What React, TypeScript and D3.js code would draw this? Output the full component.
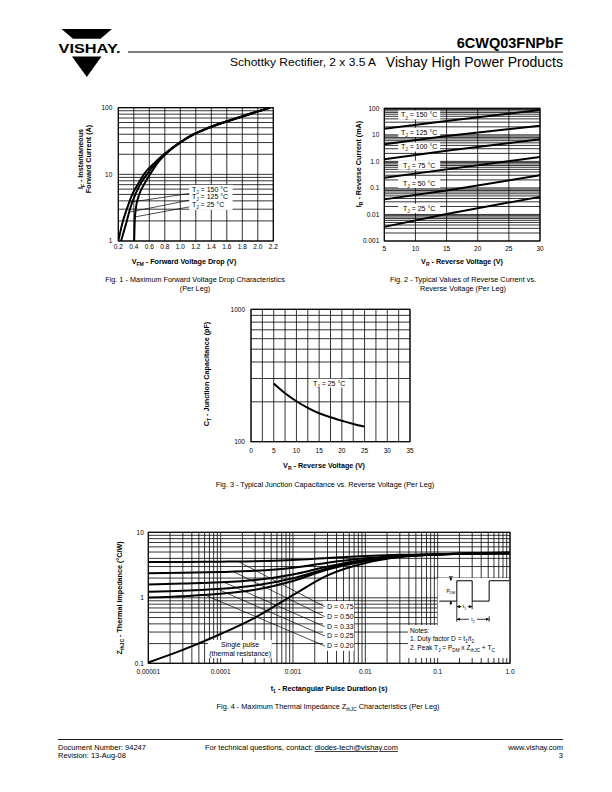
import React from "react";
import * as d3 from "d3";

const FONT = "'Liberation Sans', Arial, Helvetica, sans-serif";
const GRID_W = 0.8;
const BORDER_W = 1.1;
const CURVE_W = 2;
const TICK_FS = 6.5;
const LABEL_FS = 7.2;
const CAP_FS = 7.3;

// ---------------- Fig. 1 data ----------------
const fig1Current = [1, 2, 3, 5, 7, 10, 15, 20, 30, 40, 50, 70, 100];
const fig1Vf150 = [0.2, 0.26, 0.31, 0.38, 0.45, 0.53, 0.67, 0.79, 0.99, 1.17, 1.36, 1.73, 2.15];
const fig1Vf125 = [0.235, 0.31, 0.35, 0.42, 0.48, 0.57, 0.69, 0.8, 1.0, 1.18, 1.37, 1.74, 2.16];
const fig1Vf25 = [0.405, 0.412, 0.425, 0.47, 0.53, 0.61, 0.71, 0.81, 1.0, 1.18, 1.37, 1.74, 2.16];
const fig1XTicks = [0.2, 0.4, 0.6, 0.8, 1.0, 1.2, 1.4, 1.6, 1.8, 2.0, 2.2];
const fig1XTickLabels = ["0.2", "0.4", "0.6", "0.8", "1.0", "1.2", "1.4", "1.6", "1.8", "2.0", "2.2"];
const fig1YTicks = [1, 10, 100];
const fig1Temps = ["150", "125", "25"];
const fig1LabelIf = [6.0, 4.63, 3.48];
const fig1LeaderStartIf = [5.16, 4.09, 3.25];
const fig1LeaderEndIf = [3.8, 2.7, 2.3];

// ---------------- Fig. 2 data ----------------
const fig2Voltage = [5, 15, 30];
const fig2Ir150 = [17, 33, 87];
const fig2Ir125 = [4.4, 9, 22];
const fig2Ir100 = [1.2, 2.5, 6.8];
const fig2Ir75 = [0.24, 0.5, 1.45];
const fig2Ir50 = [0.037, 0.08, 0.3];
const fig2Ir25 = [0.0034, 0.0105, 0.046];
const fig2Temps = ["150", "125", "100", "75", "50", "25"];
const fig2LabelIr = [56, 12.4, 3.5, 0.72, 0.148, 0.017];
const fig2XTicks = [5, 10, 15, 20, 25, 30];
const fig2YTicks = [0.001, 0.01, 0.1, 1, 10, 100];
const fig2YTickLabels = ["0.001", "0.01", "0.1", "1.0", "10", "100"];

// ---------------- Fig. 3 data ----------------
const fig3Voltage = [5, 7.5, 10, 12.5, 15, 17.5, 20, 22.5, 25];
const fig3Cap = [275, 232, 202, 180, 164, 153, 144, 136, 130];
const fig3XTicks = [0, 5, 10, 15, 20, 25, 30, 35];
const fig3GridStep = 2.5;
const fig3YTicks = [100, 1000];

// ---------------- Fig. 4 data ----------------
const fig4Time = [1e-5, 3e-5, 1e-4, 3e-4, 1e-3, 3e-3, 1e-2, 3e-2, 0.1, 0.3, 1];
const fig4Single = [0.103, 0.16, 0.28, 0.5, 1.1, 2.2, 3.4, 4.2, 4.6, 4.8, 4.9];
const fig4D075 = [3.51, 3.53, 3.56, 3.61, 3.77, 4.04, 4.33, 4.53, 4.64, 4.69, 4.72];
const fig4D050 = [2.38, 2.41, 2.47, 2.58, 2.88, 3.43, 4.0, 4.4, 4.62, 4.71, 4.77];
const fig4D033 = [1.6, 1.65, 1.72, 1.87, 2.27, 3.01, 3.82, 4.34, 4.6, 4.75, 4.83];
const fig4D025 = [1.24, 1.28, 1.37, 1.54, 1.99, 2.81, 3.71, 4.3, 4.6, 4.76, 4.85];
const fig4D020 = [1.01, 1.06, 1.15, 1.33, 1.81, 2.69, 3.65, 4.28, 4.6, 4.77, 4.86];
const fig4DLabels = ["0.75", "0.50", "0.33", "0.25", "0.20"];
const fig4DLabelZ = [0.731, 0.515, 0.362, 0.261, 0.184];
const fig4LeaderStartT = [1.75e-4, 1.5e-4, 1.1e-4, 9e-5, 6e-5];
const fig4XTicks = [1e-5, 1e-4, 1e-3, 1e-2, 0.1, 1];
const fig4XTickLabels = ["0.00001", "0.0001", "0.001", "0.01", "0.1", "1.0"];
const fig4YTicks = [0.1, 1, 10];
const fig4YTickLabels = ["0.1", "1", "10"];

// ---------------- helpers ----------------
function logGridValues(lo: number, hi: number): number[] {
  const out: number[] = [];
  const e0 = Math.round(Math.log10(lo));
  const e1 = Math.round(Math.log10(hi));
  for (let e = e0; e < e1; e++) {
    for (let k = 1; k < 10; k++) out.push(k * Math.pow(10, e));
  }
  out.push(hi);
  return out;
}

type Part = string | [string];
function rich(parts: Part[], fs: number) {
  let shifted = false;
  return parts.map((p, i) => {
    const isSub = Array.isArray(p);
    const text = isSub ? (p as [string])[0] : (p as string);
    let dy: number | undefined = undefined;
    if (isSub && !shifted) {
      dy = fs * 0.3;
      shifted = true;
    } else if (!isSub && shifted) {
      dy = -fs * 0.3;
      shifted = false;
    }
    return (
      <tspan key={i} dy={dy} fontSize={isSub ? fs * 0.7 : undefined}>
        {text}
      </tspan>
    );
  });
}

function interpLog(xs: number[], ys: number[], target: number): number {
  for (let i = 0; i < xs.length - 1; i++) {
    if (target >= xs[i] && target <= xs[i + 1]) {
      const f = (Math.log(target) - Math.log(xs[i])) / (Math.log(xs[i + 1]) - Math.log(xs[i]));
      return ys[i] + f * (ys[i + 1] - ys[i]);
    }
  }
  return ys[ys.length - 1];
}

function interpLogLog(xs: number[], ys: number[], target: number): number {
  for (let i = 0; i < xs.length - 1; i++) {
    if (target >= xs[i] && target <= xs[i + 1]) {
      const f = (Math.log(target) - Math.log(xs[i])) / (Math.log(xs[i + 1]) - Math.log(xs[i]));
      return Math.exp(Math.log(ys[i]) + f * (Math.log(ys[i + 1]) - Math.log(ys[i])));
    }
  }
  return ys[ys.length - 1];
}

type Box = { x0: number; x1: number; y0: number; y1: number };

function GridV({ xs, b }: { xs: number[]; b: Box }) {
  return (
    <g stroke="#000" strokeWidth={GRID_W}>
      {xs.map((x, i) => (
        <line key={i} x1={x} x2={x} y1={b.y0} y2={b.y1} />
      ))}
    </g>
  );
}
function GridH({ ys, b }: { ys: number[]; b: Box }) {
  return (
    <g stroke="#000" strokeWidth={GRID_W}>
      {ys.map((y, i) => (
        <line key={i} x1={b.x0} x2={b.x1} y1={y} y2={y} />
      ))}
    </g>
  );
}
function Border({ b }: { b: Box }) {
  return <rect x={b.x0} y={b.y0} width={b.x1 - b.x0} height={b.y1 - b.y0} fill="none" stroke="#000" strokeWidth={BORDER_W} />;
}

function tjLabel(v: string, fs: number) {
  return rich(["T", ["J"], ` = ${v} °C`], fs);
}

// ---------------- Header / footer ----------------
function Header() {
  return (
    <g>
      <path d="M61.5,29 L112,29 L100.5,38.8 L73,38.8 Z" fill="#000" />
      <text x={58.5} y={52.5} fontSize={12.5} fontWeight="bold" textLength={62} lengthAdjust="spacingAndGlyphs">
        VISHAY.
      </text>
      <path d="M72,56.5 L101.5,56.5 L86.8,77 Z" fill="#000" />
      <line x1={128} x2={563} y1={52} y2={52} stroke="#000" strokeWidth={1} />
      <text x={563} y={47.5} textAnchor="end" fontSize={14.5} fontWeight="bold">
        6CWQ03FNPbF
      </text>
      <text x={376} y={66} textAnchor="end" fontSize={11} textLength={146} lengthAdjust="spacingAndGlyphs">
        Schottky Rectifier, 2 x 3.5 A
      </text>
      <text x={563} y={66.5} textAnchor="end" fontSize={14}>
        Vishay High Power Products
      </text>
    </g>
  );
}

function Footer() {
  const fs = 7.5;
  return (
    <g fontSize={fs}>
      <line x1={58} x2={563} y1={739.5} y2={739.5} stroke="#000" strokeWidth={0.9} />
      <text x={58} y={750}>Document Number: 94247</text>
      <text x={58} y={758}>Revision: 13-Aug-08</text>
      <text x={205} y={750}>
        For technical questions, contact: <tspan style={{ textDecoration: "underline" }}>diodes-tech@vishay.com</tspan>
      </text>
      <text x={563} y={750} textAnchor="end">
        www.vishay.com
      </text>
      <text x={563} y={758} textAnchor="end">
        3
      </text>
    </g>
  );
}

// ---------------- Fig. 1 ----------------
function Fig1() {
  const b: Box = { x0: 118.3, x1: 273.3, y0: 107.7, y1: 241 };
  const x = d3.scaleLinear().domain([0.2, 2.2]).range([b.x0, b.x1]);
  const y = d3.scaleLog().domain([1, 100]).range([b.y1, b.y0]);
  const line = d3
    .line<[number, number]>()
    .x((d) => x(d[0]))
    .y((d) => y(d[1]))
    .curve(d3.curveMonotoneX);
  const series = [fig1Vf150, fig1Vf125, fig1Vf25];
  const hGrid = logGridValues(1, 100).map((v) => y(v));
  const vGrid = fig1XTicks.map((v) => x(v));
  const boxL = x(1.115);
  const boxR = x(1.675);
  const boxT = y(6.95);
  const boxB = y(2.93);
  return (
    <g>
      <defs>
        <clipPath id="clip1">
          <rect x={b.x0} y={b.y0} width={b.x1 - b.x0} height={b.y1 - b.y0} />
        </clipPath>
      </defs>
      <GridH ys={hGrid} b={b} />
      <GridV xs={vGrid} b={b} />
      <rect x={boxL} y={boxT} width={boxR - boxL} height={boxB - boxT} fill="#fff" />
      <g clipPath="url(#clip1)" fill="none" stroke="#000">
        {series.map((s, i) => (
          <path key={i} d={line(d3.zip(s, fig1Current) as [number, number][]) || ""} strokeWidth={CURVE_W} />
        ))}
        {series.map((s, i) => (
          <line
            key={"l" + i}
            x1={boxL}
            y1={y(fig1LeaderStartIf[i])}
            x2={x(interpLog(fig1Current, s, fig1LeaderEndIf[i]))}
            y2={y(fig1LeaderEndIf[i])}
            strokeWidth={0.7}
          />
        ))}
      </g>
      <Border b={b} />
      {fig1Temps.map((t, i) => (
        <text key={i} x={x(1.15)} y={y(fig1LabelIf[i])} dy="0.35em" fontSize={7}>
          {tjLabel(t, 7)}
        </text>
      ))}
      {fig1YTicks.map((v) => (
        <text key={v} x={b.x0 - 6} y={y(v)} dy="0.35em" textAnchor="end" fontSize={TICK_FS}>
          {String(v)}
        </text>
      ))}
      {fig1XTicks.map((v, i) => (
        <text key={i} x={x(v)} y={b.y1 + 6} dy="0.35em" textAnchor="middle" fontSize={TICK_FS}>
          {fig1XTickLabels[i]}
        </text>
      ))}
      <text x={184} y={261} dy="0.35em" textAnchor="middle" fontSize={LABEL_FS} fontWeight="bold">
        {rich(["V", ["FM"], " - Forward Voltage Drop (V)"], LABEL_FS)}
      </text>
      <text transform="translate(80,159) rotate(-90)" dy="0.35em" textAnchor="middle" fontSize={LABEL_FS} fontWeight="bold">
        {rich(["I", ["F"], " - Instantaneous"], LABEL_FS)}
      </text>
      <text transform="translate(88.5,159) rotate(-90)" dy="0.35em" textAnchor="middle" fontSize={LABEL_FS} fontWeight="bold">
        Forward Current (A)
      </text>
      <text x={195} y={279} dy="0.35em" textAnchor="middle" fontSize={CAP_FS}>
        Fig. 1 - Maximum Forward Voltage Drop Characteristics
      </text>
      <text x={195} y={288} dy="0.35em" textAnchor="middle" fontSize={CAP_FS}>
        (Per Leg)
      </text>
    </g>
  );
}

// ---------------- Fig. 2 ----------------
function Fig2() {
  const b: Box = { x0: 384.3, x1: 540, y0: 108.3, y1: 241 };
  const x = d3.scaleLinear().domain([5, 30]).range([b.x0, b.x1]);
  const y = d3.scaleLog().domain([0.001, 100]).range([b.y1, b.y0]);
  const line = d3
    .line<[number, number]>()
    .x((d) => x(d[0]))
    .y((d) => y(d[1]));
  const series = [fig2Ir150, fig2Ir125, fig2Ir100, fig2Ir75, fig2Ir50, fig2Ir25];
  const hGrid = logGridValues(0.001, 100).map((v) => y(v));
  const vGrid = fig2XTicks.map((v) => x(v));
  const labelV = 10.6;
  return (
    <g>
      <GridH ys={hGrid} b={b} />
      <GridV xs={vGrid} b={b} />
      {fig2Temps.map((t, i) => (
        <rect key={i} x={x(labelV) - 21} y={y(fig2LabelIr[i]) - 4.6} width={42} height={9.2} fill="#fff" />
      ))}
      <g fill="none" stroke="#000" strokeWidth={CURVE_W}>
        {series.map((s, i) => (
          <path key={i} d={line(d3.zip(fig2Voltage, s) as [number, number][]) || ""} />
        ))}
      </g>
      <Border b={b} />
      {fig2Temps.map((t, i) => (
        <text key={i} x={x(labelV)} y={y(fig2LabelIr[i])} dy="0.35em" textAnchor="middle" fontSize={7}>
          {tjLabel(t, 7)}
        </text>
      ))}
      {fig2YTicks.map((v, i) => (
        <text key={i} x={b.x0 - 5} y={y(v)} dy="0.35em" textAnchor="end" fontSize={TICK_FS}>
          {fig2YTickLabels[i]}
        </text>
      ))}
      {fig2XTicks.map((v) => (
        <text key={v} x={x(v)} y={b.y1 + 7.5} dy="0.35em" textAnchor="middle" fontSize={TICK_FS}>
          {String(v)}
        </text>
      ))}
      <text x={462} y={261} dy="0.35em" textAnchor="middle" fontSize={LABEL_FS} fontWeight="bold">
        {rich(["V", ["R"], " - Reverse Voltage (V)"], LABEL_FS)}
      </text>
      <text transform="translate(358.5,164) rotate(-90)" dy="0.35em" textAnchor="middle" fontSize={LABEL_FS} fontWeight="bold">
        {rich(["I", ["R"], " - Reverse Current (mA)"], LABEL_FS)}
      </text>
      <text x={463} y={279} dy="0.35em" textAnchor="middle" fontSize={CAP_FS}>
        Fig. 2 - Typical Values of Reverse Current vs.
      </text>
      <text x={463} y={288} dy="0.35em" textAnchor="middle" fontSize={CAP_FS}>
        Reverse Voltage (Per Leg)
      </text>
    </g>
  );
}

// ---------------- Fig. 3 ----------------
function Fig3() {
  const b: Box = { x0: 251, x1: 410, y0: 309.3, y1: 441.7 };
  const x = d3.scaleLinear().domain([0, 35]).range([b.x0, b.x1]);
  const y = d3.scaleLog().domain([100, 1000]).range([b.y1, b.y0]);
  const line = d3
    .line<[number, number]>()
    .x((d) => x(d[0]))
    .y((d) => y(d[1]))
    .curve(d3.curveMonotoneX);
  const hGrid = logGridValues(100, 1000).map((v) => y(v));
  const vGrid = d3.range(0, 35 + 0.01, fig3GridStep).map((v) => x(v));
  const lx = x(17.2);
  const ly = y(277);
  return (
    <g>
      <GridH ys={hGrid} b={b} />
      <GridV xs={vGrid} b={b} />
      <rect x={lx - 19.5} y={ly - 4.4} width={39} height={8.8} fill="#fff" />
      <path d={line(d3.zip(fig3Voltage, fig3Cap) as [number, number][]) || ""} fill="none" stroke="#000" strokeWidth={CURVE_W} />
      <Border b={b} />
      <text x={lx} y={ly} dy="0.35em" textAnchor="middle" fontSize={7}>
        {tjLabel("25", 7)}
      </text>
      {fig3YTicks.map((v) => (
        <text key={v} x={b.x0 - 6} y={y(v)} dy="0.35em" textAnchor="end" fontSize={TICK_FS}>
          {String(v)}
        </text>
      ))}
      {fig3XTicks.map((v) => (
        <text key={v} x={x(v)} y={b.y1 + 9} dy="0.35em" textAnchor="middle" fontSize={TICK_FS}>
          {String(v)}
        </text>
      ))}
      <text x={324} y={465} dy="0.35em" textAnchor="middle" fontSize={LABEL_FS} fontWeight="bold">
        {rich(["V", ["R"], " - Reverse Voltage (V)"], LABEL_FS)}
      </text>
      <text transform="translate(206.7,374) rotate(-90)" dy="0.35em" textAnchor="middle" fontSize={LABEL_FS} fontWeight="bold">
        {rich(["C", ["T"], " - Junction Capacitance (pF)"], LABEL_FS)}
      </text>
      <text x={325} y={484} dy="0.35em" textAnchor="middle" fontSize={CAP_FS}>
        Fig. 3  - Typical Junction Capacitance vs. Reverse Voltage (Per Leg)
      </text>
    </g>
  );
}

// ---------------- Fig. 4 ----------------
function Fig4() {
  const b: Box = { x0: 148.3, x1: 510, y0: 532.3, y1: 663.3 };
  const x = d3.scaleLog().domain([1e-5, 1]).range([b.x0, b.x1]);
  const y = d3.scaleLog().domain([0.1, 10]).range([b.y1, b.y0]);
  const line = d3
    .line<[number, number]>()
    .x((d) => x(d[0]))
    .y((d) => y(d[1]))
    .curve(d3.curveMonotoneX);
  const dSeries = [fig4D075, fig4D050, fig4D033, fig4D025, fig4D020];
  const hGrid = logGridValues(0.1, 10).map((v) => y(v));
  const vGrid = logGridValues(1e-5, 1).map((v) => x(v));

  // annotation geometry (data units)
  const spL = x(6.7e-5), spR = x(5.1e-4), spT = y(0.227), spB = y(0.12);
  const dL = x(2.6e-3), dR = x(7.0e-3), dT = y(0.89), dB = y(0.155);
  const nbL = x(0.1), nbN = x(0.039), nbR = b.x1 - 0.6, nbT = y(2.0), nbM = y(0.385), nbB = y(0.12);
  const leaderEndT = 2.75e-3;
  const textT = 2.95e-3;

  // pulse diagram
  const pBase = y(0.89), pTop = y(1.82);
  const tStart = x(0.105), tR1 = x(0.184), tF1 = x(0.3), tR2 = x(0.515);
  const pdmX = x(0.152);
  const t1Y = y(0.733), t2Y = y(0.47);
  const pulsePath = `M${tStart},${pBase} L${tR1},${pBase} L${tR1},${pTop} L${tF1},${pTop} L${tF1},${pBase} L${tR2},${pBase} L${tR2},${pTop} L${nbR},${pTop}`;

  return (
    <g>
      <defs>
        <clipPath id="clip4">
          <rect x={b.x0} y={b.y0} width={b.x1 - b.x0} height={b.y1 - b.y0} />
        </clipPath>
        <marker id="arr" viewBox="0 0 4 4" markerWidth={3.2} markerHeight={3.2} refX={4} refY={2} orient="auto-start-reverse" markerUnits="userSpaceOnUse">
          <path d="M0,0 L4,2 L0,4 Z" fill="#000" />
        </marker>
      </defs>
      <GridH ys={hGrid} b={b} />
      <GridV xs={vGrid} b={b} />
      <rect x={spL} y={spT} width={spR - spL} height={spB - spT} fill="#fff" />
      <rect x={dL} y={dT} width={dR - dL} height={dB - dT} fill="#fff" />
      <path d={`M${nbL},${nbT} L${nbR},${nbT} L${nbR},${nbB} L${nbN},${nbB} L${nbN},${nbM} L${nbL},${nbM} Z`} fill="#fff" />
      <g clipPath="url(#clip4)" fill="none" stroke="#000">
        {dSeries.map((s, i) => (
          <line
            key={"ld" + i}
            x1={x(fig4LeaderStartT[i])}
            y1={y(interpLogLog(fig4Time, s, fig4LeaderStartT[i]))}
            x2={x(leaderEndT)}
            y2={y(fig4DLabelZ[i])}
            strokeWidth={0.7}
          />
        ))}
        {dSeries.map((s, i) => (
          <path key={i} d={line(d3.zip(fig4Time, s) as [number, number][]) || ""} strokeWidth={CURVE_W} />
        ))}
        <path d={line(d3.zip(fig4Time, fig4Single) as [number, number][]) || ""} strokeWidth={CURVE_W} />
      </g>
      <Border b={b} />

      {/* pulse diagram */}
      <g fill="none" stroke="#000" strokeWidth={0.8}>
        <path d={pulsePath} strokeWidth={1} />
        <line x1={pdmX} x2={pdmX} y1={pTop - 4} y2={pTop} markerEnd="url(#arr)" />
        <line x1={pdmX} x2={pdmX} y1={pBase + 4} y2={pBase} markerEnd="url(#arr)" />
        <line x1={pdmX - 2} x2={pdmX + 2} y1={pTop - 4} y2={pTop - 4} />
        <line x1={tR1} x2={tR1} y1={pBase} y2={t2Y + 2.5} />
        <line x1={tF1} x2={tF1} y1={pBase} y2={t1Y + 2.5} />
        <line x1={tR2} x2={tR2} y1={t2Y - 3} y2={t2Y + 2.5} />
        <line x1={tR1} x2={(tR1 + tF1) / 2 - 3} y1={t1Y} y2={t1Y} markerStart="url(#arr)" />
        <line x1={(tR1 + tF1) / 2 + 3} x2={tF1} y1={t1Y} y2={t1Y} markerEnd="url(#arr)" />
        <line x1={tR1} x2={(tR1 + tR2) / 2 - 4} y1={t2Y} y2={t2Y} markerStart="url(#arr)" />
        <line x1={(tR1 + tR2) / 2 + 4} x2={tR2} y1={t2Y} y2={t2Y} markerEnd="url(#arr)" />
      </g>
      <text x={pdmX} y={(pTop + pBase) / 2} dy="0.35em" textAnchor="middle" fontSize={5}>
        {rich(["P", ["DM"]], 5)}
      </text>
      <text x={(tR1 + tF1) / 2} y={t1Y} dy="0.35em" textAnchor="middle" fontSize={5}>
        {rich(["t", ["1"]], 5)}
      </text>
      <text x={(tR1 + tR2) / 2} y={t2Y} dy="0.35em" textAnchor="middle" fontSize={5}>
        {rich(["t", ["2"]], 5)}
      </text>

      {/* notes */}
      <g fontSize={6.6}>
        <text x={x(0.0415)} y={y(0.32)} dy="0.35em">Notes:</text>
        <text x={x(0.0415)} y={y(0.241)} dy="0.35em">
          {rich(["1. Duty factor D = t", ["1"], "/t", ["2"]], 6.6)}
        </text>
        <text x={x(0.0415)} y={y(0.173)} dy="0.35em">
          {rich(["2. Peak T", ["J"], " = P", ["DM"], " x Z", ["thJC"], " + T", ["C"]], 6.6)}
        </text>
      </g>

      {/* D labels */}
      {fig4DLabels.map((d, i) => (
        <text key={d} x={x(textT)} y={y(fig4DLabelZ[i])} dy="0.35em" fontSize={7}>
          D = {d}
        </text>
      ))}
      <text x={x(1.86e-4)} y={y(0.195)} dy="0.35em" textAnchor="middle" fontSize={7}>
        Single pulse
      </text>
      <text x={x(1.86e-4)} y={y(0.142)} dy="0.35em" textAnchor="middle" fontSize={7}>
        (thermal resistance)
      </text>

      {fig4YTicks.map((v, i) => (
        <text key={i} x={b.x0 - 4.5} y={y(v)} dy="0.35em" textAnchor="end" fontSize={TICK_FS}>
          {fig4YTickLabels[i]}
        </text>
      ))}
      {fig4XTicks.map((v, i) => (
        <text key={i} x={x(v)} y={b.y1 + 8.4} dy="0.35em" textAnchor="middle" fontSize={TICK_FS}>
          {fig4XTickLabels[i]}
        </text>
      ))}
      <text x={329} y={688.3} dy="0.35em" textAnchor="middle" fontSize={LABEL_FS} fontWeight="bold">
        {rich(["t", ["1"], " - Rectangular Pulse Duration (s)"], LABEL_FS)}
      </text>
      <text transform="translate(119,598) rotate(-90)" dy="0.35em" textAnchor="middle" fontSize={LABEL_FS} fontWeight="bold">
        {rich(["Z", ["thJC"], " - Thermal Impedance (°C/W)"], LABEL_FS)}
      </text>
      <text x={328} y={706} dy="0.35em" textAnchor="middle" fontSize={CAP_FS}>
        {rich(["Fig. 4 - Maximum Thermal Impedance Z", ["thJC"], " Characteristics (Per Leg)"], CAP_FS)}
      </text>
    </g>
  );
}

export default function App() {
  return (
    <svg
      width={612}
      height={792}
      viewBox="0 0 612 792"
      style={{ position: "absolute", left: 0, top: 0, display: "block", background: "#fff" }}
      fontFamily={FONT}
    >
      <rect width={612} height={792} fill="#fff" />
      <Header />
      <Fig1 />
      <Fig2 />
      <Fig3 />
      <Fig4 />
      <Footer />
    </svg>
  );
}
